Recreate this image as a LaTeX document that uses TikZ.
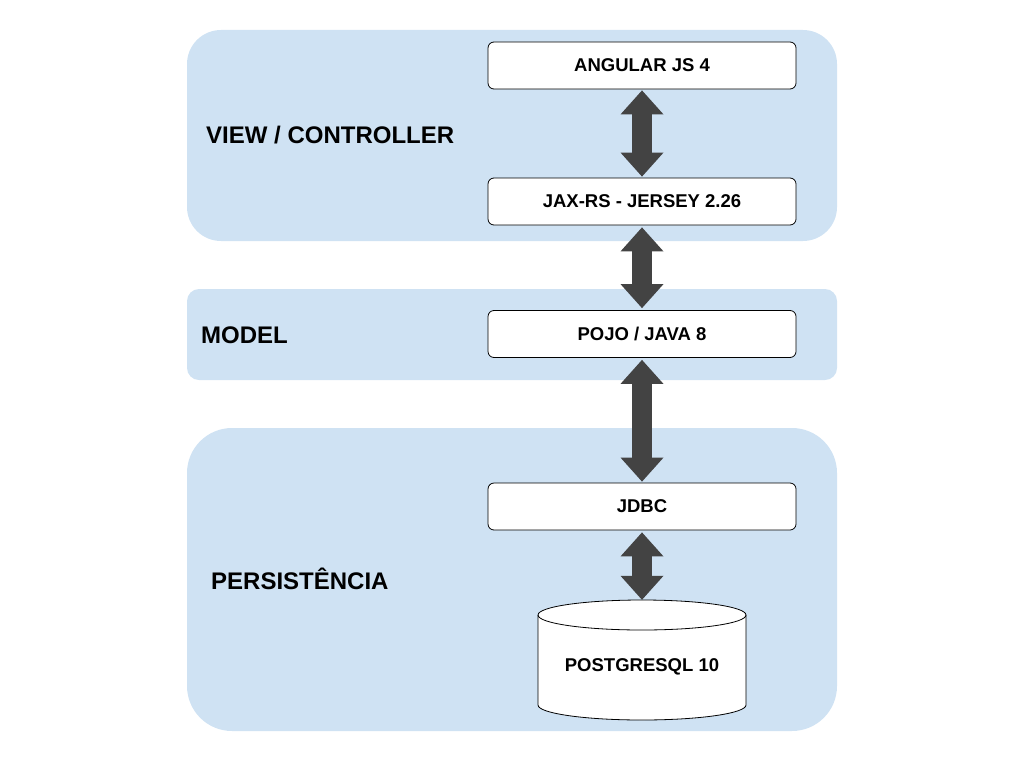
\documentclass[tikz,border=0pt]{standalone}
\usepackage{fontspec}
\setmainfont{Liberation Sans}
\usetikzlibrary{arrows.meta}
\definecolor{panelblue}{HTML}{CFE2F3}
\definecolor{arrowgray}{HTML}{434343}
\tikzset{
  panel/.style={fill=panelblue, draw=none},
  layerbox/.style={draw=black, fill=white, line width=0.8pt, rounded corners=6pt,
    minimum width=308pt, minimum height=47pt, inner sep=0pt,
    font=\fontsize{18.5}{20}\selectfont\bfseries},
  layerlabel/.style={anchor=west, inner sep=0pt, font=\fontsize{24}{26}\selectfont\bfseries},
  bigarrow/.style={draw=arrowgray, line width=20pt,
    {Triangle[length=24pt,width=43pt,line width=0pt]}-{Triangle[length=24pt,width=43pt,line width=0pt]}},
}
\begin{document}
\begin{tikzpicture}[x=1pt,y=-1pt]
\useasboundingbox (0,0) rectangle (1024,768);
% panels
\fill[panel, rounded corners=34pt] (187,30) rectangle (837,241);
\fill[panel, rounded corners=12pt] (187,289) rectangle (837,380);
\fill[panel, rounded corners=45pt] (187,428) rectangle (837,731);
% labels
\node[layerlabel] (lview) at (206,135) {VIEW / CONTROLLER};
\node[layerlabel] (lmodel) at (201,335) {MODEL};
\node[layerlabel] (lpers) at (211,579) {PERSISTÊNCIA};
% boxes
\node[layerbox] (ang) at (642,65.5) {ANGULAR JS 4};
\node[layerbox] (jax) at (642,201.5) {JAX-RS - JERSEY 2.26};
\node[layerbox] (pojo) at (642,334) {POJO / JAVA 8};
\node[layerbox] (jdbc) at (642,506.5) {JDBC};
% cylinder
\coordinate (pgc) at (642,660);
\draw[fill=white, line width=0.8pt]
  ([xshift=-104pt,yshift=45pt]pgc) -- ([xshift=-104pt,yshift=-45pt]pgc)
  arc[start angle=180,end angle=360,x radius=104pt,y radius=15pt]
  -- ([xshift=104pt,yshift=45pt]pgc)
  arc[start angle=0,end angle=180,x radius=104pt,y radius=15pt] -- cycle;
\draw[line width=0.8pt] ([xshift=-104pt,yshift=45pt]pgc)
  arc[start angle=180,end angle=360,x radius=104pt,y radius=15pt];
\node[inner sep=0pt, minimum width=208pt, minimum height=134pt,
  font=\fontsize{18.5}{20}\selectfont\bfseries] (pg) at (642,667) {POSTGRESQL 10};
% arrows
\draw[bigarrow] ([yshift=-1pt]ang.south) -- ([yshift=1pt]jax.north);
\draw[bigarrow] ([yshift=-2pt]jax.south) -- ([yshift=2pt]pojo.north);
\draw[bigarrow] ([yshift=-2pt]pojo.south) -- ([yshift=1pt]jdbc.north);
\draw[bigarrow] ([yshift=-2pt]jdbc.south) -- (pg.north);
\end{tikzpicture}
\end{document}
